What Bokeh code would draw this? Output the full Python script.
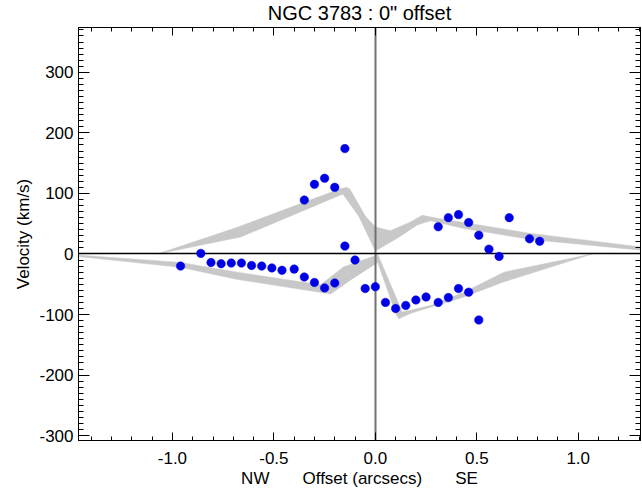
import numpy as np
from bokeh.plotting import figure
from bokeh.models import Range1d, LinearAxis, FixedTicker, PrintfTickFormatter
from bokeh.embed import file_html
from bokeh.resources import INLINE

# ---- data ----
# measured velocities (blue points)
pts_x = [-0.96, -0.86, -0.81, -0.76, -0.71, -0.66, -0.61, -0.56, -0.51, -0.46, -0.40,
         -0.35, -0.30, -0.25, -0.20, -0.15, -0.10, -0.05, 0.00, 0.05, 0.10, 0.15, 0.20,
         0.25, 0.31, 0.36, 0.41, 0.46, 0.51,
         -0.35, -0.30, -0.25, -0.20, -0.15,
         0.31, 0.36, 0.41, 0.46, 0.51, 0.56, 0.61, 0.66, 0.76, 0.81]
pts_y = [-20, 1, -14, -16, -15, -15, -19, -20, -23, -27, -25,
         -38, -47, -56, -48, 13, -10, -57, -54, -80, -90, -85, -76,
         -71, -80, -72, -57, -63, -109,
         89, 115, 125, 110, 174,
         45, 60, 65, 52, 31, 8, -4, 60, 25, 21]

# model envelopes (grey bands), polygon outlines
upper_x = [-1.074, -0.68, -0.179, -0.141, -0.125, -0.048, 0.0, 0.03, 0.075, 0.174, 0.231,
           0.305, 0.765, 1.35, 1.35, 0.765, 0.437, 0.272, 0.207, 0.108, 0.0, -0.081,
           -0.16, -0.664]
upper_y = [0, 44, 107, 110, 107, 62, 45, 42, 38.5, 53, 64,
           59, 34, 10, 5, 24, 42, 55, 48, 26, 5, 62,
           99, 28]
lower_x = [-1.5, -0.96, -0.68, -0.27, -0.155, 0.0, 0.01, 0.133, 0.272, 0.437, 0.634, 1.069,
           0.634, 0.437, 0.174, 0.116, 0.1, 0.012, -0.122, -0.22, -0.68, -0.96, -1.5]
lower_y = [-1, -14, -30, -51, -21, -3, 1, -96, -85, -63, -30, 0,
           -46, -71, -98, -107, -98, -14, -43, -66, -42, -22, -3]

x_major = [-1.0, -0.5, 0.0, 0.5, 1.0]
x_minor = [round(v, 1) for v in np.arange(-1.4, 1.31, 0.1)]
y_major = [-300, -200, -100, 0, 100, 200, 300]
y_minor = list(range(-300, 371, 10))

FONT = "Liberation Sans"
NB = "\u00a0" * 7

p = figure(width=642, height=490, output_backend="svg", toolbar_location=None,
           x_range=Range1d(-1.463, 1.307), y_range=Range1d(-308, 374),
           min_border_left=78, min_border_right=2, min_border_top=0, min_border_bottom=50,
           background_fill_color="white", border_fill_color="white")
p.grid.visible = False
p.outline_line_color = "black"

p.title.text = "NGC 3783 : 0\" offset"
p.title.align = "center"
p.title.vertical_align = "top"
p.title.text_font = FONT
p.title.text_font_size = "20px"
p.title.text_font_style = "normal"
p.title.text_color = "black"
p.title.standoff = 3
p.title.offset = 0

p.patch(upper_x, upper_y, fill_color="#c8c8c8", line_color="#c8c8c8", line_width=0.5)
p.patch(lower_x, lower_y, fill_color="#c8c8c8", line_color="#c8c8c8", line_width=0.5)
p.vspan(x=[0], line_color="#707070", line_width=2)
p.hspan(y=[0], line_color="black", line_width=1.5)
p.scatter(pts_x, pts_y, size=8.5, fill_color="#0000e6", line_color="#0000e6", line_width=0.5)

bottom = p.below[0]
left = p.left[0]

# mirror tick marks on top / right (no labels): tick-only axes
for loc, minor, ln in [("above", x_minor, 4), ("above", x_major, 8),
                       ("right", y_minor, 5), ("right", y_major, 11)]:
    ax = LinearAxis(ticker=FixedTicker(ticks=[], minor_ticks=minor))
    ax.minor_tick_in = ln
    ax.minor_tick_out = 0
    ax.major_tick_in = 0
    ax.major_tick_out = 0
    ax.major_label_standoff = 0
    ax.axis_label_standoff = 0
    ax.axis_line_color = "black"
    ax.minor_tick_line_color = "black"
    p.add_layout(ax, loc)

bottom.ticker = FixedTicker(ticks=x_major, minor_ticks=x_minor)
bottom.major_tick_in = 8
bottom.major_tick_out = 0
bottom.minor_tick_in = 4
bottom.minor_tick_out = 0
left.ticker = FixedTicker(ticks=y_major, minor_ticks=y_minor)
left.major_tick_in = 11
left.major_tick_out = 0
left.minor_tick_in = 5
left.minor_tick_out = 0

for ax in [bottom, left]:
    ax.axis_line_color = "black"
    ax.major_tick_line_color = "black"
    ax.minor_tick_line_color = "black"
    ax.major_label_text_font = FONT
    ax.major_label_text_font_size = "17px"
    ax.major_label_text_color = "black"
    ax.axis_label_text_font = FONT
    ax.axis_label_text_font_size = "17px"
    ax.axis_label_text_font_style = "normal"
    ax.axis_label_text_color = "black"

bottom.formatter = PrintfTickFormatter(format="%.1f")
bottom.major_label_standoff = 11
bottom.axis_label = "NW" + NB + "Offset (arcsecs)" + NB + "SE"
bottom.axis_label_standoff = 2
left.formatter = PrintfTickFormatter(format="%d")
left.axis_label = "Velocity (km/s)"
left.major_label_standoff = 5
left.axis_label_standoff = 3

open("out.html", "w").write(file_html(p, INLINE))
